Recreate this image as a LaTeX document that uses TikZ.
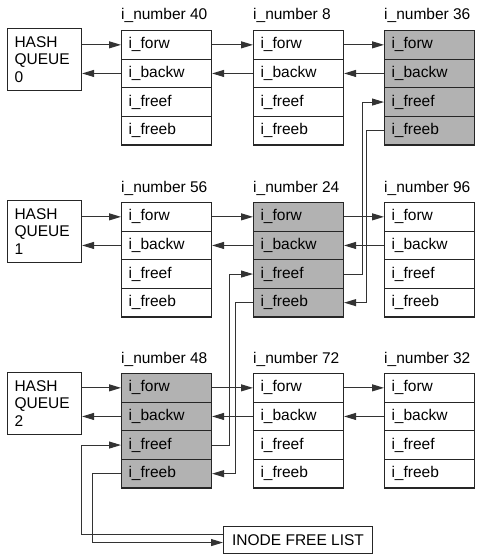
\documentclass[tikz,border=0pt]{standalone}
\usepackage{fontspec}
\setmainfont{Liberation Sans}
\usetikzlibrary{arrows.meta}

\begin{document}
\begin{tikzpicture}[x=1pt, y=-1pt,
        font=\fontsize{15.5}{17.5}\selectfont,
        cell/.style={draw=black!85, line width=1.1pt, anchor=north west, inner xsep=7pt,
            text width=76pt, minimum height=28.6pt, align=left},
        hash/.style={draw=black!85, line width=1.1pt, anchor=north west, inner xsep=7pt,
            text width=60pt, minimum height=62pt, align=left},
        numlabel/.style={anchor=base west, inner sep=0pt},
        ptr/.style={draw=black!80, line width=1pt, -{Triangle[length=12pt, width=7pt]}}]
    \useasboundingbox (0,0) rectangle (480,559);

    % hash queue heads
    \foreach \q/\y in {0/28, 1/200, 2/372} {
        \node[hash] (hq\q) at (7,\y) {HASH\\QUEUE\\\q};
    }

    % inodes, grey ones are on the free list
    \foreach \num/\x/\y/\fil in {40/121/30/white, 8/253/30/white, 36/384/30/black!30,
                                 56/121/202/white, 24/253/202/black!30, 96/384/202/white,
                                 48/121/373/black!30, 72/253/373/white, 32/384/373/white} {
        \node[numlabel] (n\num) at (\x,\y-10) {i\_number \num};
        \foreach \fld [count=\k from 0] in {forw, backw, freef, freeb} {
            \node[cell, fill=\fil] (\fld\num) at (\x,\y+28.6*\k) {i\_\fld};
        }
    }

    \node[draw=black!85, line width=1.1pt, anchor=north west, inner xsep=8pt,
          minimum width=149pt, minimum height=27pt] (freelist) at (223,526) {INODE FREE LIST};

    % hash chains
    \foreach \q/\a in {0/40, 1/56, 2/48} {
        \draw[ptr] (hq\q.east |- forw\a.west) -- (forw\a.west);
        \draw[ptr] (backw\a.west) -- (hq\q.east |- backw\a.west);
    }
    \foreach \a/\b in {40/8, 8/36, 56/24, 24/96, 48/72, 72/32} {
        \draw[ptr] (forw\a.east) -- (forw\b.west);
        \draw[ptr] (backw\b.west) -- (backw\a.east);
    }

    % free list
    \draw[ptr] ([yshift=5.5pt]freelist.west) -- ++(-142,0) |- (freef48.west);
    \draw[ptr] (freef48.east) -- ++(17,0) |- (freef24.west);
    \draw[ptr] (freef24.east) -- ++(18,0) |- (freef36.west);
    \draw[ptr] (freeb36.west) -- ++(-18,0) |- (freeb24.east);
    \draw[ptr] (freeb24.west) -- ++(-18,0) |- (freeb48.east);
    \draw[ptr] (freeb48.west) -- ++(-29,0) |- ([yshift=-2.5pt]freelist.west);
\end{tikzpicture}
\end{document}
